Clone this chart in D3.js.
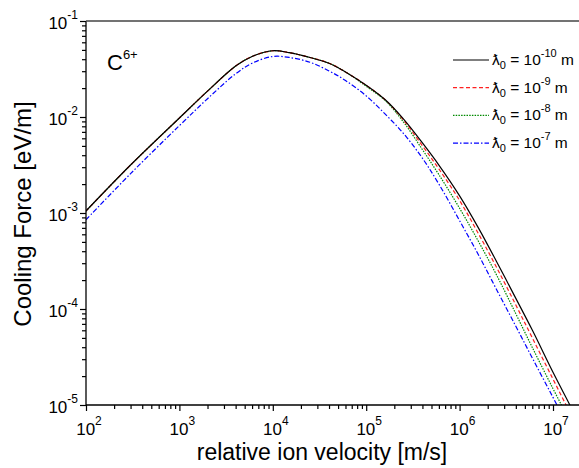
<!DOCTYPE html>
<html>
<head>
<meta charset="utf-8">
<script src="https://cdn.jsdelivr.net/npm/d3@7"></script>
<style>
  body { margin: 0; background: #fff; }
  svg { display: block; font-family: "Liberation Sans", Arial, Helvetica, sans-serif; }
</style>
</head>
<body>
<svg width="579" height="468"></svg>
<script>
// values
var velocity = [1e2, 3e2, 1e3, 2e3, 4e3, 6e3, 1e4, 1.5e4, 2.5e4, 4e4, 6e4, 1e5,
  1.6e5, 2.5e5, 4e5, 6e5, 1e6, 1.6e6, 2.5e6, 4e6, 6e6, 1e7, 1.5e7, 2e7];

var force10 = [1.05e-3, 3.16e-3, 9.77e-3, 1.86e-2, 3.39e-2, 4.27e-2, 4.90e-2, 4.68e-2,
  4.17e-2, 3.63e-2, 2.95e-2, 2.14e-2, 1.51e-2, 9.55e-3, 5.37e-3, 3.16e-3, 1.51e-3,
  6.92e-4, 3.09e-4, 1.29e-4, 6.03e-5, 2.19e-5, 1.02e-5, 5.89e-6];
var force9 = [1.05e-3, 3.16e-3, 9.77e-3, 1.86e-2, 3.39e-2, 4.27e-2, 4.90e-2, 4.68e-2,
  4.17e-2, 3.63e-2, 2.95e-2, 2.14e-2, 1.51e-2, 9.33e-3, 5.01e-3, 2.88e-3, 1.35e-3,
  6.03e-4, 2.69e-4, 1.10e-4, 5.01e-5, 1.86e-5, 8.51e-6, 4.90e-6];
var force8 = [1.05e-3, 3.16e-3, 9.77e-3, 1.86e-2, 3.39e-2, 4.27e-2, 4.90e-2, 4.68e-2,
  4.17e-2, 3.63e-2, 2.95e-2, 2.09e-2, 1.48e-2, 8.91e-3, 4.57e-3, 2.51e-3, 1.12e-3,
  5.01e-4, 2.24e-4, 8.91e-5, 3.98e-5, 1.48e-5, 6.92e-6, 3.98e-6];
var force7 = [8.51e-4, 2.57e-3, 8.13e-3, 1.55e-2, 2.82e-2, 3.63e-2, 4.27e-2, 4.17e-2,
  3.72e-2, 3.02e-2, 2.40e-2, 1.66e-2, 1.07e-2, 6.76e-3, 3.72e-3, 2.00e-3, 8.32e-4,
  3.63e-4, 1.58e-4, 6.61e-5, 3.09e-5, 1.20e-5, 5.62e-6, 3.24e-6];

var exponents = ["-10", "-9", "-8", "-7"];
var xMajor = [1e2, 1e3, 1e4, 1e5, 1e6, 1e7];
var yMajor = [1e-5, 1e-4, 1e-3, 1e-2, 1e-1];

var svg = d3.select("svg");

var plotLeft = 86, plotRight = 579, plotTop = 21, plotBottom = 405;
var x = d3.scaleLog([1e2, 1e7], [86, 553]);
var y = d3.scaleLog([1e-5, 1e-1], [plotBottom, plotTop]);

var series = [
  { values: force10, color: "#000000", dash: null },
  { values: force9, color: "#ff2020", dash: "4,2.5" },
  { values: force8, color: "#008a00", dash: "1.5,1.2" },
  { values: force7, color: "#0000ff", dash: "5,2,1.5,2" }
];

//  minor ticks for every decade
function minors(majors, maxVal) {
  var out = [];
  majors.forEach(function (m) {
    for (var k = 1; k < 10; k++) {
      if (m * k <= maxVal) out.push(m * k);
    }
  });
  return out;
}
function isMajor(d) {
  var l = Math.log10(d);
  return Math.abs(l - Math.round(l)) < 1e-6;
}

var xTicks = minors(xMajor, x.invert(plotRight));
var yTicks = minors(yMajor, 1e-1);

svg.append("defs").append("clipPath").attr("id", "plot")
  .append("rect").attr("x", plotLeft).attr("y", plotTop)
  .attr("width", plotRight - plotLeft).attr("height", plotBottom - plotTop);

//  curves
var line = d3.line()
  .x(function (d) { return x(d[0]); })
  .y(function (d) { return y(d[1]); })
  .curve(d3.curveCatmullRom.alpha(0.5));

var plot = svg.append("g").attr("clip-path", "url(#plot)");
series.slice().reverse().forEach(function (s) {
  plot.append("path")
    .datum(velocity.map(function (v, i) { return [v, s.values[i]]; }))
    .attr("d", line)
    .attr("fill", "none")
    .attr("stroke", s.color)
    .attr("stroke-width", 1.2)
    .attr("stroke-dasharray", s.dash);
});

//  axes
var gx = svg.append("g").attr("transform", "translate(0," + plotBottom + ")")
  .call(d3.axisBottom(x).tickValues(xTicks).tickFormat("").tickSizeOuter(0));
gx.select(".domain").remove();
gx.selectAll(".tick line").attr("y2", function (d) { return isMajor(d) ? 6 : 4; })
  .attr("stroke-width", 1.2);

var gy = svg.append("g").attr("transform", "translate(" + plotLeft + ",0)")
  .call(d3.axisLeft(y).tickValues(yTicks).tickFormat("").tickSizeOuter(0));
gy.select(".domain").remove();
gy.selectAll(".tick line").attr("x2", function (d) { return isMajor(d) ? -6 : -4; })
  .attr("stroke-width", 1.2);

svg.append("line").attr("x1", plotLeft).attr("x2", plotRight)
  .attr("y1", plotBottom).attr("y2", plotBottom)
  .attr("stroke", "#000").attr("stroke-width", 1.3);
svg.append("line").attr("x1", plotLeft).attr("x2", plotLeft)
  .attr("y1", plotTop).attr("y2", plotBottom)
  .attr("stroke", "#000").attr("stroke-width", 1.3);
svg.append("line").attr("x1", plotLeft).attr("x2", plotRight)
  .attr("y1", plotTop).attr("y2", plotTop)
  .attr("stroke", "#444").attr("stroke-width", 1.3);

//  tick labels with superscript exponents
xMajor.forEach(function (d) {
  var t = svg.append("text").attr("x", x(d) + 3).attr("y", 435)
    .attr("text-anchor", "middle").attr("font-size", 17);
  t.append("tspan").text("10");
  t.append("tspan").attr("dy", -10).attr("font-size", 12).text(Math.round(Math.log10(d)));
});
yMajor.forEach(function (d) {
  var t = svg.append("text").attr("x", 78).attr("y", y(d) + 8)
    .attr("text-anchor", "end").attr("font-size", 17);
  t.append("tspan").text("10");
  t.append("tspan").attr("dy", -10).attr("font-size", 12).text(Math.round(Math.log10(d)));
});

svg.append("text").attr("x", 322).attr("y", 460).attr("text-anchor", "middle")
  .attr("font-size", 23).text("relative ion velocity [m/s]");
svg.append("text").attr("transform", "translate(31,214) rotate(-90)")
  .attr("text-anchor", "middle").attr("font-size", 24).text("Cooling Force [eV/m]");

var ion = svg.append("text").attr("x", 107).attr("y", 70).attr("font-size", 22);
ion.append("tspan").text("C");
ion.append("tspan").attr("dy", -11).attr("font-size", 13).text("6+");

//  legend
var legend = svg.append("g");
series.forEach(function (s, i) {
  var ly = 60 + i * 27.7;
  legend.append("line").attr("x1", 453).attr("x2", 489).attr("y1", ly).attr("y2", ly)
    .attr("stroke", s.color).attr("stroke-width", 1.2).attr("stroke-dasharray", s.dash);
  var t = legend.append("text").attr("x", 492).attr("y", ly + 5).attr("font-size", 15.5);
  t.append("tspan").text("\u019B");
  t.append("tspan").attr("dy", 4).attr("font-size", 11).text("0");
  t.append("tspan").attr("dy", -4).text(" = 10");
  t.append("tspan").attr("dy", -8).attr("font-size", 11).text(exponents[i]);
  t.append("tspan").attr("dy", 8).text(" m");
});
</script>
</body>
</html>
